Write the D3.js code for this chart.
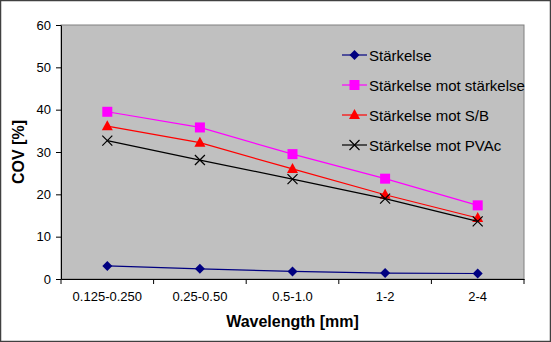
<!DOCTYPE html>
<html>
<head>
<meta charset="utf-8">
<script src="https://cdn.jsdelivr.net/npm/d3@7"></script>
<style>
  html, body { margin: 0; padding: 0; background: #fff; }
  svg { display: block; }
</style>
</head>
<body>
<svg id="svg"></svg>
<script>
const categories = ["0.125-0.250", "0.25-0.50", "0.5-1.0", "1-2", "2-4"];
const starkelse = [3.1, 2.4, 1.8, 1.4, 1.3];
const motStarkelse = [39.5, 35.8, 29.5, 23.7, 17.4];
const motSB = [36.1, 32.2, 26.0, 19.9, 14.4];
const motPVAc = [32.7, 28.1, 23.6, 19.0, 13.6];
const yTicks = [0, 10, 20, 30, 40, 50, 60];

const seriesList = [
  { name: "Stärkelse", values: starkelse, color: "#000080", marker: "diamond" },
  { name: "Stärkelse mot stärkelse", values: motStarkelse, color: "#ff00ff", marker: "square" },
  { name: "Stärkelse mot S/B", values: motSB, color: "#ff0000", marker: "triangle" },
  { name: "Stärkelse mot PVAc", values: motPVAc, color: "#000000", marker: "cross" }
];

const width = 551;
const height = 342;
const plot = { left: 61, top: 25, right: 524, bottom: 279 };

const svg = d3.select("#svg")
  .attr("width", width)
  .attr("height", height)
  .attr("viewBox", [0, 0, width, height])
  .attr("font-family", "'Liberation Sans', Arial, sans-serif");

// outer frame
svg.append("rect")
  .attr("x", 0.5).attr("y", 0.5)
  .attr("width", width - 1).attr("height", height - 1)
  .attr("fill", "#fff")
  .attr("stroke", "#404040")
  .attr("stroke-width", 1.5);

const xScale = d3.scaleBand(categories, [plot.left, plot.right]);
const yScale = d3.scaleLinear([0, 60], [plot.bottom, plot.top]);

// plot area
svg.append("rect")
  .attr("x", plot.left).attr("y", plot.top)
  .attr("width", plot.right - plot.left)
  .attr("height", plot.bottom - plot.top)
  .attr("fill", "#c0c0c0")
  .attr("stroke", "#808080")
  .attr("stroke-width", 1);

// axes
const yAxis = svg.append("g")
  .attr("transform", `translate(${plot.left},0)`)
  .call(d3.axisLeft(yScale).tickValues(yTicks).tickSize(5).tickPadding(5).tickSizeOuter(0));

const xAxis = svg.append("g")
  .attr("transform", `translate(0,${plot.bottom})`)
  .call(d3.axisBottom(xScale).tickSize(0).tickPadding(13));

// category boundary ticks on the x axis
xAxis.selectAll(".bound")
  .data(d3.range(categories.length + 1))
  .join("line")
  .attr("class", "bound")
  .attr("x1", i => plot.left + i * xScale.step())
  .attr("x2", i => plot.left + i * xScale.step())
  .attr("y1", 0).attr("y2", 5)
  .attr("stroke", "#000");

[yAxis, xAxis].forEach(g => {
  g.select(".domain").attr("stroke", "#000");
  g.selectAll(".tick line").attr("stroke", "#000");
  g.selectAll("text").attr("font-size", 13).attr("fill", "#000")
    .attr("font-family", "'Liberation Sans', Arial, sans-serif");
});

// axis titles
svg.append("text")
  .attr("transform", `translate(24,${(plot.top + plot.bottom) / 2}) rotate(-90)`)
  .attr("text-anchor", "middle")
  .attr("font-size", 16)
  .attr("font-weight", "bold")
  .text("COV [%]");

svg.append("text")
  .attr("x", (plot.left + plot.right) / 2)
  .attr("y", 327)
  .attr("text-anchor", "middle")
  .attr("font-size", 16)
  .attr("font-weight", "bold")
  .text("Wavelength [mm]");

function drawMarker(g, type, x, y, color) {
  if (type === "diamond") {
    g.append("path")
      .attr("d", `M${x},${y - 5}L${x + 5},${y}L${x},${y + 5}L${x - 5},${y}Z`)
      .attr("fill", color);
  } else if (type === "square") {
    g.append("rect")
      .attr("x", x - 5).attr("y", y - 5)
      .attr("width", 10).attr("height", 10)
      .attr("fill", color);
  } else if (type === "triangle") {
    g.append("path")
      .attr("d", `M${x},${y - 6}L${x + 5.5},${y + 4}L${x - 5.5},${y + 4}Z`)
      .attr("fill", color);
  } else {
    g.append("path")
      .attr("d", `M${x - 5},${y - 5}L${x + 5},${y + 5}M${x - 5},${y + 5}L${x + 5},${y - 5}`)
      .attr("stroke", color)
      .attr("stroke-width", 1.2)
      .attr("fill", "none");
  }
}

const line = d3.line()
  .x((d, i) => xScale(categories[i]) + xScale.bandwidth() / 2)
  .y(d => yScale(d));

seriesList.forEach(s => {
  const g = svg.append("g");
  g.append("path")
    .datum(s.values)
    .attr("fill", "none")
    .attr("stroke", s.color)
    .attr("stroke-width", 1.2)
    .attr("d", line);
  s.values.forEach((v, i) => {
    drawMarker(g, s.marker, xScale(categories[i]) + xScale.bandwidth() / 2, yScale(v), s.color);
  });
});

// legend
const legend = svg.append("g").attr("font-size", 15);
seriesList.forEach((s, i) => {
  const y = 55 + i * 30;
  const row = legend.append("g");
  row.append("line")
    .attr("x1", 342).attr("x2", 367)
    .attr("y1", y).attr("y2", y)
    .attr("stroke", s.color)
    .attr("stroke-width", 1.2);
  drawMarker(row, s.marker, 354.5, y, s.color);
  row.append("text")
    .attr("x", 369)
    .attr("y", y + 5.5)
    .attr("fill", "#000")
    .text(s.name);
});
</script>
</body>
</html>
